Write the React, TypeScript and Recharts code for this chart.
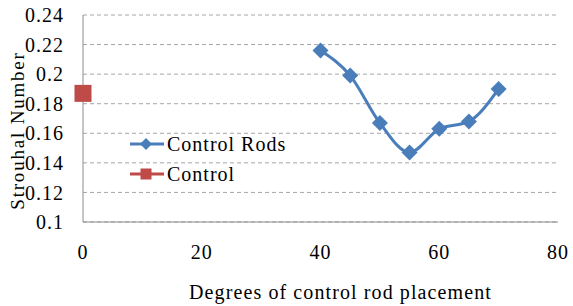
import React from 'react';
import { LineChart, Line, XAxis, YAxis, CartesianGrid, Label } from 'recharts';

const rodAngles = [40, 45, 50, 55, 60, 65, 70];
const rodStrouhal = [0.216, 0.199, 0.167, 0.147, 0.163, 0.168, 0.19];
const controlAngles = [0];
const controlStrouhal = [0.187];
const xTicks = [0, 20, 40, 60, 80];
const yTicks = [0.1, 0.12, 0.14, 0.16, 0.18, 0.2, 0.22, 0.24];
const seriesNames = ['Control Rods', 'Control'];

const rodData = rodAngles.map((x, i) => ({ x, y: rodStrouhal[i] }));
const controlData = controlAngles.map((x, i) => ({ x, y: controlStrouhal[i] }));

const BLUE = '#4A7EBB';
const RED = '#BE4B48';
const FONT = '"Liberation Serif", "Times New Roman", serif';

const Diamond = (props: any) => {
  const { cx, cy, size = 8, fill } = props;
  if (cx == null || cy == null) return null;
  return (
    <polygon
      points={`${cx},${cy - size} ${cx + size},${cy} ${cx},${cy + size} ${cx - size},${cy}`}
      fill={fill}
    />
  );
};

const Square = (props: any) => {
  const { cx, cy, size = 8, fill } = props;
  if (cx == null || cy == null) return null;
  return <rect x={cx - size} y={cy - size} width={size * 2} height={size * 2} fill={fill} />;
};

const LegendBox = () => {
  const items = [
    { name: seriesNames[0], color: BLUE, shape: 'diamond' },
    { name: seriesNames[1], color: RED, shape: 'square' },
  ];
  return (
    <div
      style={{
        position: 'absolute',
        left: 129,
        top: 129,
        fontFamily: FONT,
        fontSize: 20,
        color: '#000',
        lineHeight: '30px',
      }}
    >
      {items.map((it) => (
        <div key={it.name} style={{ display: 'flex', alignItems: 'center', height: 30 }}>
          <svg width={36} height={16} style={{ marginRight: 2 }}>
            <line x1={1} y1={8} x2={35} y2={8} stroke={it.color} strokeWidth={3} />
            {it.shape === 'diamond' ? (
              <polygon points="17,2 23,8 17,14 11,8" fill={it.color} />
            ) : (
              <rect x={11.5} y={2.5} width={11} height={11} fill={it.color} />
            )}
          </svg>
          <span style={{ letterSpacing: 1 }}>{it.name}</span>
        </div>
      ))}
    </div>
  );
};

export default function App() {
  return (
    <div style={{ position: 'absolute', left: 0, top: 0, width: 573, height: 306, background: '#fff' }}>
      <LineChart width={573} height={306} margin={{ top: 15, right: 15, bottom: 24, left: 13 }}>
        <CartesianGrid vertical={false} stroke="#A6A6A6" strokeDasharray="4 3" />
        <XAxis
          type="number"
          dataKey="x"
          domain={[0, 80]}
          ticks={xTicks}
          interval={0}
          height={60}
          tickLine={false}
          tickSize={6}
          tickMargin={17}
          axisLine={{ stroke: '#8C8C8C', strokeWidth: 1 }}
          tick={{ fontFamily: FONT, fontSize: 20, fill: '#000', letterSpacing: 1 }}
        >
          <Label
            value="Degrees of control rod placement"
            position="bottom"
            offset={3}
            dx={20}
            style={{ fontFamily: FONT, fontSize: 20, fill: '#000', letterSpacing: 1.1 }}
          />
        </XAxis>
        <YAxis
          type="number"
          dataKey="y"
          domain={[0.1, 0.24]}
          ticks={yTicks}
          interval={0}
          width={70}
          tickLine={false}
          tickSize={6}
          tickMargin={13}
          axisLine={{ stroke: '#8C8C8C', strokeWidth: 1 }}
          tickFormatter={(v: number) => String(+v.toFixed(2))}
          tick={{ fontFamily: FONT, fontSize: 20, fill: '#000', letterSpacing: 1 }}
        >
          <Label
            value="Strouhal Number"
            angle={-90}
            position="insideLeft"
            offset={4}
            dy={12}
            style={{ fontFamily: FONT, fontSize: 19, fill: '#000', letterSpacing: 1.8, textAnchor: 'middle' }}
          />
        </YAxis>
        <Line
          data={rodData}
          dataKey="y"
          name={seriesNames[0]}
          type="monotone"
          stroke={BLUE}
          strokeWidth={3}
          dot={<Diamond size={8} fill={BLUE} />}
          activeDot={false}
          isAnimationActive={false}
        />
        <Line
          data={controlData}
          dataKey="y"
          name={seriesNames[1]}
          type="monotone"
          stroke={RED}
          strokeWidth={3}
          dot={<Square size={8.5} fill={RED} />}
          activeDot={false}
          isAnimationActive={false}
        />
      </LineChart>
      <LegendBox />
    </div>
  );
}
